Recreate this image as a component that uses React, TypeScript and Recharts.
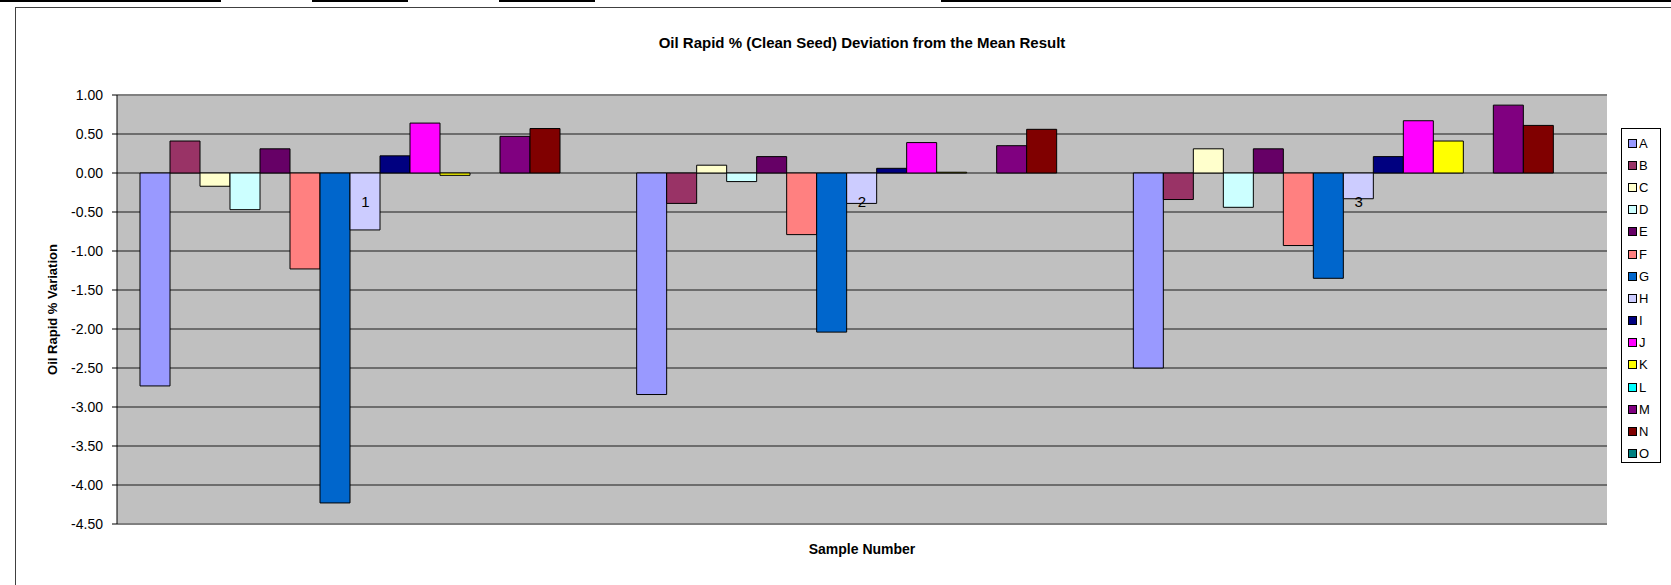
import React from 'react';
import {
    BarChart,
    Bar,
    XAxis,
    YAxis,
    CartesianGrid,
    ReferenceLine,
    ReferenceDot,
    Legend
} from 'recharts';

// sample numbers on the x axis
const categories = ['1', '2', '3'];

// labs, in legend order
const seriesNames = ['A', 'B', 'C', 'D', 'E', 'F', 'G', 'H', 'I', 'J', 'K', 'L', 'M', 'N', 'O'];
const seriesColors = [
    '#9999FF', '#993366', '#FFFFCC', '#CCFFFF', '#660066',
    '#FF8080', '#0066CC', '#CCCCFF', '#000080', '#FF00FF',
    '#FFFF00', '#00FFFF', '#800080', '#800000', '#008080'
];

// deviation from the mean, one value per sample
const A = [-2.73, -2.84, -2.5];
const B = [0.41, -0.39, -0.34];
const C = [-0.17, 0.1, 0.31];
const D = [-0.47, -0.11, -0.44];
const E = [0.31, 0.21, 0.31];
const F = [-1.23, -0.79, -0.93];
const G = [-4.23, -2.04, -1.35];
const H = [-0.73, -0.39, -0.33];
const I = [0.22, 0.06, 0.21];
const J = [0.64, 0.39, 0.67];
const K = [-0.03, 0.01, 0.41];
const L = [null, null, null];
const M = [0.47, 0.35, 0.87];
const N = [0.57, 0.56, 0.61];
const O = [null, null, null];

const seriesValues: (number | null)[][] = [A, B, C, D, E, F, G, H, I, J, K, L, M, N, O];

const yTicks = [1, 0.5, 0, -0.5, -1, -1.5, -2, -2.5, -3, -3.5, -4, -4.5];

const data = categories.map((sample, i) => {
    const row: Record<string, string | number | null> = { sample };
    seriesNames.forEach((name, s) => {
        row[name] = seriesValues[s][i];
    });
    return row;
});

const FONT = '"Liberation Sans", Arial, sans-serif';

// top cell borders of the sheet behind the chart
const sheetLines = [
    [0, 221],
    [312, 408],
    [499, 595],
    [941, 1671]
];

const LegendBox = ({ payload }: any) => (
    <div
        style={{
            width: 40,
            height: 335,
            boxSizing: 'border-box',
            border: '1px solid #000',
            background: '#fff',
            paddingTop: 3,
            fontFamily: FONT,
            fontSize: 13
        }}
    >
        {(payload || []).map((p: any) => (
            <div key={p.value} style={{ height: 22.2, display: 'flex', alignItems: 'center', paddingLeft: 6 }}>
                <span
                    style={{
                        display: 'inline-block',
                        width: 7,
                        height: 7,
                        border: '1px solid #000',
                        background: p.color,
                        marginRight: 2
                    }}
                />
                <span style={{ color: '#000' }}>{p.value}</span>
            </div>
        ))}
    </div>
);

const YTitle = ({ viewBox }: any) => {
    const x = viewBox.x + 38;
    const y = viewBox.y + viewBox.height / 2;
    return (
        <text
            x={x}
            y={y}
            transform={`rotate(-90, ${x}, ${y})`}
            textAnchor="middle"
            dominantBaseline="central"
            fontFamily={FONT}
            fontWeight="bold"
            fontSize={13}
            fill="#000"
        >
            Oil Rapid % Variation
        </text>
    );
};

const App = () => {
    return (
        <div style={{ position: 'absolute', left: 0, top: 0, width: 1671, height: 585, background: '#fff' }}>
            {sheetLines.map(([a, b]) => (
                <div key={a} style={{ position: 'absolute', left: a, top: 0, width: b - a, height: 2, background: '#000' }} />
            ))}
            <div style={{ position: 'absolute', left: 15, top: 7, width: 1656, height: 1, background: '#404040' }} />
            <div style={{ position: 'absolute', left: 15, top: 7, width: 1, height: 578, background: '#404040' }} />

            <div
                style={{
                    position: 'absolute',
                    left: 0,
                    top: 34,
                    width: 1724,
                    textAlign: 'center',
                    fontFamily: FONT,
                    fontWeight: 'bold',
                    fontSize: 15,
                    lineHeight: '18px'
                }}
            >
                Oil Rapid % (Clean Seed) Deviation from the Mean Result
            </div>
            <div
                style={{
                    position: 'absolute',
                    left: 0,
                    top: 540,
                    width: 1724,
                    textAlign: 'center',
                    fontFamily: FONT,
                    fontWeight: 'bold',
                    fontSize: 14,
                    lineHeight: '18px'
                }}
            >
                Sample Number
            </div>

            <BarChart
                width={1671}
                height={585}
                data={data}
                margin={{ top: 95, right: 64, bottom: 61, left: 14 }}
                barCategoryGap={23}
                barGap={0}
            >
                <CartesianGrid vertical={false} stroke="#1a1a1a" fill="#C0C0C0" />
                <XAxis dataKey="sample" hide />
                <YAxis
                    type="number"
                    domain={[-4.5, 1]}
                    ticks={yTicks}
                    interval={0}
                    width={103}
                    tickSize={5}
                    tickMargin={9}
                    tickFormatter={(v: number) => v.toFixed(2)}
                    tick={{ fill: '#000', fontSize: 14, fontFamily: FONT }}
                    axisLine={{ stroke: '#000' }}
                    tickLine={{ stroke: '#000' }}
                    label={YTitle}
                />
                {/* gray frame on top, right and bottom of the plot area */}
                <ReferenceLine y={1} stroke="#808080" strokeWidth={2} />
                <ReferenceLine y={-4.5} stroke="#808080" strokeWidth={2} />
                <ReferenceLine x="3" position="end" stroke="#808080" strokeWidth={2} />

                {seriesNames.map((name, s) => (
                    <Bar
                        key={name}
                        dataKey={name}
                        name={name}
                        fill={seriesColors[s]}
                        stroke="#000"
                        strokeWidth={1}
                        isAnimationActive={false}
                    />
                ))}

                {/* category labels sit next to the zero line, as in Excel */}
                {categories.map((c) => (
                    <ReferenceDot
                        key={c}
                        x={c}
                        y={0}
                        r={0}
                        fill="none"
                        stroke="none"
                        label={{ value: c, position: 'bottom', offset: 23, fill: '#000', fontSize: 15, fontFamily: FONT }}
                    />
                ))}

                <Legend
                    layout="vertical"
                    align="center"
                    verticalAlign="middle"
                    content={LegendBox}
                    wrapperStyle={{ position: 'absolute', left: 1621, top: 128, width: 40, height: 335 }}
                />
            </BarChart>
        </div>
    );
};

export default App;
